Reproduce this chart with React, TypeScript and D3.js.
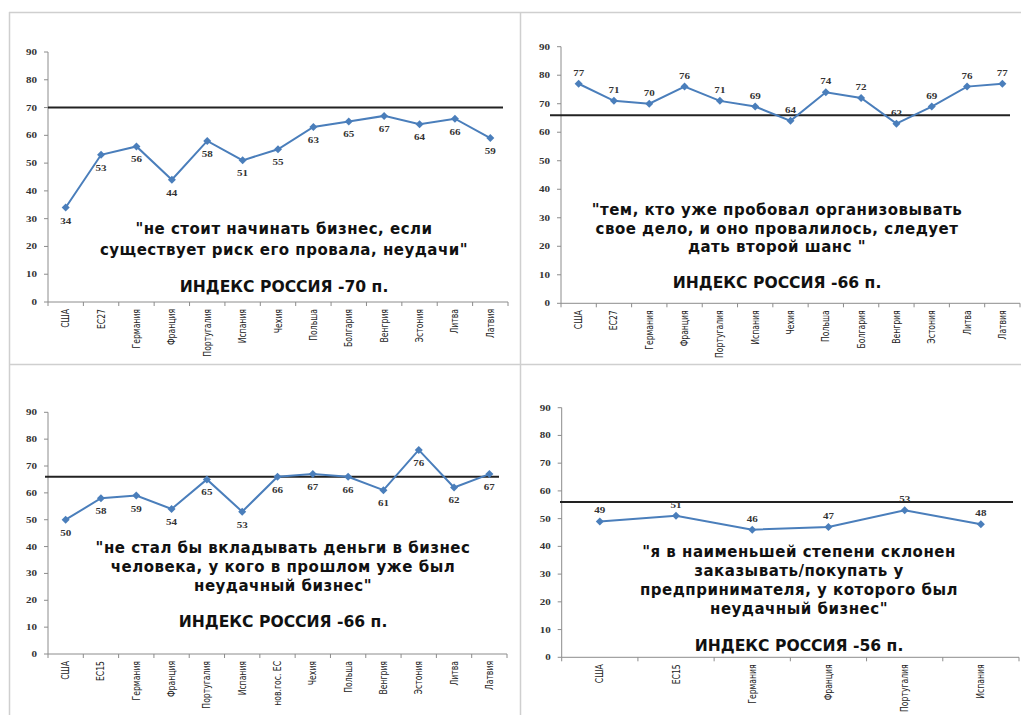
import React from "react";
import * as d3 from "d3";

// Survey indices by country (points) for four statements
const countriesA = ["США", "ЕС27", "Германия", "Франция", "Португалия", "Испания", "Чехия", "Польша", "Болгария", "Венгрия", "Эстония", "Литва", "Латвия"];
const valuesA = [34, 53, 56, 44, 58, 51, 55, 63, 65, 67, 64, 66, 59];
const russiaA = 70;
const quoteA = ["\"не стоит начинать бизнес, если", "существует риск его провала, неудачи\""];

const countriesB = ["США", "ЕС27", "Германия", "Франция", "Португалия", "Испания", "Чехия", "Польша", "Болгария", "Венгрия", "Эстония", "Литва", "Латвия"];
const valuesB = [77, 71, 70, 76, 71, 69, 64, 74, 72, 63, 69, 76, 77];
const russiaB = 66;
const quoteB = ["\"тем, кто уже пробовал организовывать", "свое дело, и оно провалилось, следует", "дать второй шанс \""];

const countriesC = ["США", "ЕС15", "Германия", "Франция", "Португалия", "Испания", "нов.гос. ЕС", "Чехия", "Польша", "Венгрия", "Эстония", "Литва", "Латвия"];
const valuesC = [50, 58, 59, 54, 65, 53, 66, 67, 66, 61, 76, 62, 67];
const russiaC = 66;
const quoteC = ["\"не стал бы вкладывать деньги в бизнес", "человека, у кого в прошлом уже был", "неудачный бизнес\""];

const countriesD = ["США", "ЕС15", "Германия", "Франция", "Португалия", "Испания"];
const valuesD = [49, 51, 46, 47, 53, 48];
const russiaD = 56;
const quoteD = ["\"я в наименьшей степени склонен", "заказывать/покупать у", "предпринимателя, у которого был", "неудачный бизнес\""];

const yTicks = [0, 10, 20, 30, 40, 50, 60, 70, 80, 90];

const LINE = "#4a7ebb";
const AXIS = "#8c8c8c";
const SERIF = "'Liberation Serif', 'DejaVu Serif', serif";
const NARROW = "'Liberation Sans Narrow', 'Arial Narrow', 'DejaVu Sans Condensed', sans-serif";
const BOLD_SANS = "'DejaVu Sans', Verdana, sans-serif";

type PanelProps = {
  countries: string[];
  values: number[];
  russia: number;
  quote: string[];
  x0: number; x1: number; yTop: number; yBottom: number;
  refX0: number; refX1: number;
  labelBelow: boolean;
  textX: number; textY: number[]; indexY: number;
};

function Panel(p: PanelProps) {
  const x = d3.scaleBand<string>().domain(p.countries).range([p.x0, p.x1]);
  const y = d3.scaleLinear().domain([0, 90]).range([p.yBottom, p.yTop]);
  const cx = (c: string) => (x(c) ?? 0) + x.bandwidth() / 2;
  const line = d3.line<number>().x((_, i) => cx(p.countries[i])).y((v) => y(v));
  const diamond = d3.symbol().type(d3.symbolSquare).size(32)();
  const boundaries = d3.range(p.countries.length + 1).map((i) => p.x0 + i * x.bandwidth());

  return (
    <g>
      {/* y axis */}
      <line x1={p.x0} x2={p.x0} y1={y(90)} y2={y(0)} stroke={AXIS} strokeWidth={1} />
      {yTicks.map((t) => (
        <g key={t}>
          <line x1={p.x0 - 4} x2={p.x0} y1={y(t)} y2={y(t)} stroke={AXIS} />
          <text transform={`translate(${p.x0 - 11},${y(t)}) scale(1.3,1)`} dy="0.35em" textAnchor="end"
            fontFamily={SERIF} fontWeight="bold" fontSize={8.5} fill="#333">{t}</text>
        </g>
      ))}
      {/* x axis */}
      <line x1={p.x0} x2={p.x1} y1={y(0)} y2={y(0)} stroke={AXIS} strokeWidth={1} />
      {boundaries.map((bx, i) => (
        <line key={i} x1={bx} x2={bx} y1={y(0)} y2={y(0) + 4} stroke={AXIS} />
      ))}
      {p.countries.map((c) => (
        <text key={c} transform={`translate(${cx(c) + 3.5},${y(0) + 7}) rotate(-90) scale(0.9,1.15)`} textAnchor="end"
          fontFamily={NARROW} fontSize={9.5} fill="#222">{c}</text>
      ))}
      {/* Russia reference level */}
      <line x1={p.refX0} x2={p.refX1} y1={y(p.russia)} y2={y(p.russia)} stroke="#222" strokeWidth={2} />
      {/* series */}
      <path d={line(p.values) ?? ""} fill="none" stroke={LINE} strokeWidth={2} />
      {p.values.map((v, i) => (
        <path key={i} d={diamond ?? ""} transform={`translate(${cx(p.countries[i])},${y(v)}) rotate(45)`} fill={LINE} />
      ))}
      {p.values.map((v, i) => (
        <text key={"l" + i} transform={`translate(${cx(p.countries[i])},${y(v) + (p.labelBelow ? 16 : -8)}) scale(1.3,1)`}
          textAnchor="middle" fontFamily={SERIF} fontWeight="bold" fontSize={8.5} fill="#333">{v}</text>
      ))}
      {/* statement text */}
      {p.quote.map((s, i) => (
        <text key={"q" + i} x={p.textX} y={p.textY[i]} textAnchor="middle" fontFamily={BOLD_SANS}
          fontWeight="bold" fontSize={15} letterSpacing={0.5} fill="#111">{s}</text>
      ))}
      <text x={p.textX} y={p.indexY} textAnchor="middle" fontFamily={BOLD_SANS} fontWeight="bold" fontSize={15.6} fill="#111">
        {`ИНДЕКС РОССИЯ -${p.russia} п.`}
      </text>
    </g>
  );
}

export default function App() {
  return (
    <svg width={1021} height={715} style={{ position: "absolute", left: 0, top: 0, display: "block", background: "#fff" }}>
      <rect x={0} y={0} width={1021} height={715} fill="#fff" />
      {/* frame */}
      <line x1={9} x2={1021} y1={12.5} y2={12.5} stroke="#cfcfcf" strokeWidth={1.5} />
      <line x1={9.5} x2={9.5} y1={12} y2={715} stroke="#cfcfcf" strokeWidth={1.5} />
      <line x1={520.5} x2={520.5} y1={12} y2={715} stroke="#cfcfcf" strokeWidth={1.5} />
      <line x1={9} x2={1021} y1={364.5} y2={364.5} stroke="#cfcfcf" strokeWidth={1.5} />

      <Panel countries={countriesA} values={valuesA} russia={russiaA} quote={quoteA}
        x0={48} x1={508} yTop={52} yBottom={302} refX0={48} refX1={503} labelBelow
        textX={284} textY={[234, 255]} indexY={292} />
      <Panel countries={countriesB} values={valuesB} russia={russiaB} quote={quoteB}
        x0={561} x1={1020} yTop={46.7} yBottom={303.3} refX0={550} refX1={1010} labelBelow={false}
        textX={777} textY={[215, 233.5, 252]} indexY={288} />
      <Panel countries={countriesC} values={valuesC} russia={russiaC} quote={quoteC}
        x0={48} x1={507} yTop={412.3} yBottom={654} refX0={45} refX1={499} labelBelow
        textX={283} textY={[553, 572, 590.5]} indexY={627} />
      <Panel countries={countriesD} values={valuesD} russia={russiaD} quote={quoteD}
        x0={561.7} x1={1019} yTop={407.7} yBottom={657.3} refX0={560} refX1={1013} labelBelow={false}
        textX={799} textY={[557, 576, 594.5, 613.5]} indexY={651} />
    </svg>
  );
}
